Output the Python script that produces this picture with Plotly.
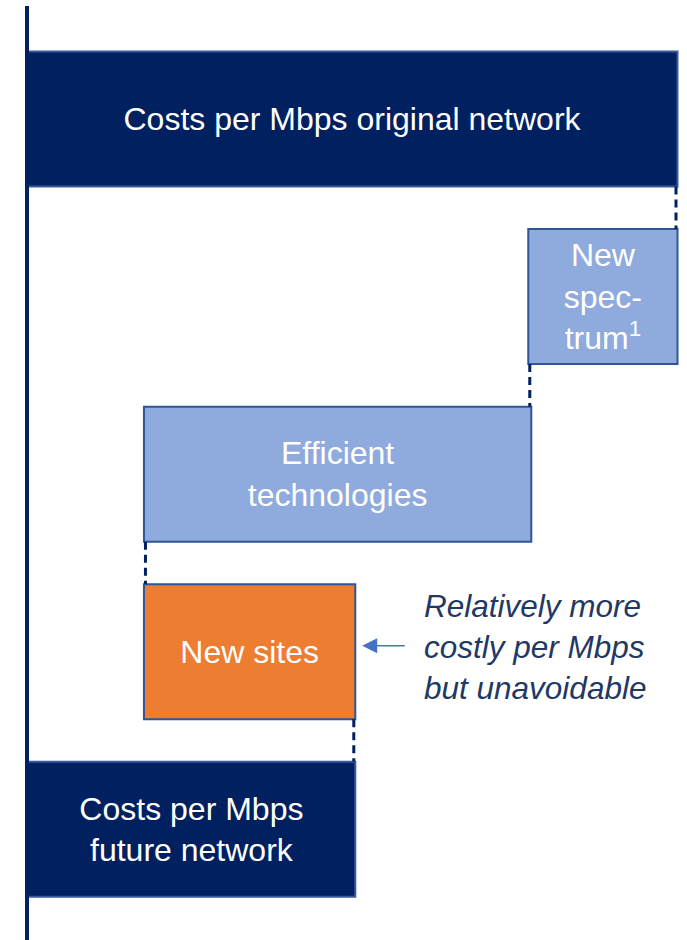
import plotly.graph_objects as go

# waterfall steps, top to bottom (cost per Mbps, original network = 100)
labels = ["Original", "Spectrum", "Technologies", "Sites", "Future"]
texts = [
    "Costs per Mbps original network",
    "New<br>spec-<br>trum<sup>1</sup>",
    "Efficient<br>technologies",
    "New sites",
    "Costs per Mbps<br>future network",
]
measures = ["absolute", "relative", "relative", "relative", "total"]
values = [100, -22.6, -59.4, 32.2, 0]

navy = "#002060"
light_blue = "#8FAADC"
orange = "#ED7D31"
border = "#2F5597"
font_family = "Liberation Sans, Arial, sans-serif"

fig = go.Figure(go.Waterfall(
    orientation="h",
    y=labels,
    x=values,
    measure=measures,
    text=texts,
    textinfo="text",
    textposition="inside",
    insidetextanchor="middle",
    constraintext="none",
    textfont=dict(family=font_family, size=32, color="white"),
    width=0.76,
    totals=dict(marker=dict(color=navy, line=dict(color="#3A5A9A", width=2))),
    decreasing=dict(marker=dict(color=light_blue, line=dict(color=border, width=2))),
    increasing=dict(marker=dict(color=orange, line=dict(color=border, width=2))),
    connector=dict(mode="between", line=dict(color=navy, width=3, dash="8px,5px")),
    hoverinfo="skip",
))

# side note on the new sites step
fig.add_annotation(
    x=60.8, y="Sites", xref="x", yref="y",
    text="Relatively more<br>costly per Mbps<br>but unavoidable",
    showarrow=False, xanchor="left", yanchor="middle", align="left",
    yshift=5,
    font=dict(family=font_family, size=31.5, color="#1F3864", style="italic"),
)
fig.add_annotation(
    x=51.5, y="Sites", ax=58.3, ay="Sites", xref="x", yref="y", axref="x", ayref="y",
    text="", showarrow=True, arrowhead=2, arrowsize=2, arrowwidth=1.5,
    arrowcolor="#4472C4", yshift=6,
)

fig.update_xaxes(visible=False, range=[0, 101.7])
fig.update_yaxes(
    range=[4.623, -0.636], showticklabels=False, showgrid=False, zeroline=False,
    showline=True, linecolor=navy, linewidth=4, ticks="",
)
fig.update_layout(
    width=687, height=940,
    margin=dict(l=29, r=0, t=6, b=0),
    paper_bgcolor="white", plot_bgcolor="white",
    showlegend=False,
)

fig.write_html(
    "out.html",
    config={"displayModeBar": False},
    post_script="document.body.style.margin = '0';",
)
